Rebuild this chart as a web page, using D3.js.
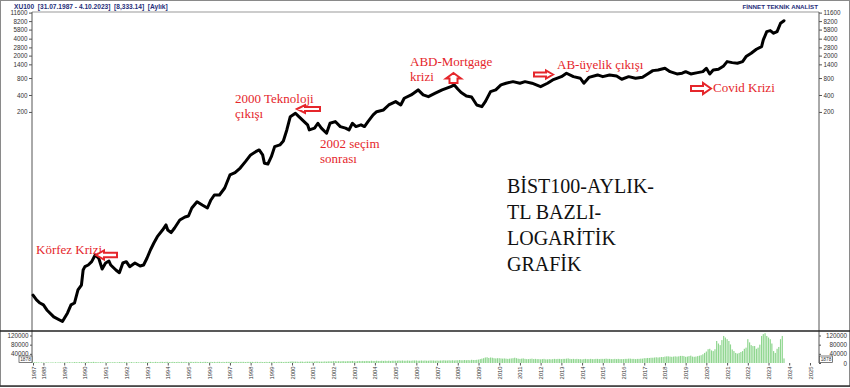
<!DOCTYPE html>
<html><head><meta charset="utf-8">
<script src="https://cdn.jsdelivr.net/npm/d3@7"></script>
<style>html,body{margin:0;padding:0;background:#fff;} svg{display:block;}</style>
</head><body>
<svg id="c" width="850" height="388"></svg>
<script>
// ---------------- DATA ----------------
const priceDates = ["1987-07","1987-09","1987-11","1988-01","1988-03","1988-07","1988-12","1989-03","1989-05","1989-07","1989-09","1989-11","1989-12","1990-01","1990-03","1990-05","1990-07","1990-09","1990-11","1991-01","1991-03","1991-04","1991-07","1991-09","1991-11","1992-01","1992-03","1992-06","1992-09","1992-11","1993-01","1993-03","1993-05","1993-07","1993-10","1993-12","1994-01","1994-03","1994-05","1994-08","1994-11","1995-01","1995-03","1995-06","1995-09","1995-12","1996-02","1996-04","1996-07","1996-10","1997-01","1997-04","1997-07","1997-10","1998-01","1998-04","1998-06","1998-08","1998-09","1998-11","1999-01","1999-03","1999-06","1999-08","1999-10","1999-12","2000-03","2000-05","2000-08","2000-10","2000-11","2001-02","2001-04","2001-06","2001-09","2001-11","2002-02","2002-05","2002-08","2002-10","2002-12","2003-02","2003-05","2003-07","2003-09","2003-12","2004-02","2004-06","2004-09","2005-01","2005-04","2005-06","2005-10","2006-02","2006-05","2006-08","2006-12","2007-04","2007-09","2007-11","2008-01","2008-03","2008-06","2008-09","2008-12","2009-03","2009-05","2009-08","2009-11","2010-02","2010-05","2010-09","2011-01","2011-04","2011-08","2012-01","2012-05","2012-08","2013-01","2013-04","2013-08","2013-12","2014-02","2014-05","2014-10","2015-01","2015-05","2015-09","2015-12","2016-04","2016-08","2016-12","2017-03","2017-06","2017-09","2018-01","2018-04","2018-08","2018-11","2019-01","2019-04","2019-08","2019-11","2020-01","2020-03","2020-05","2020-08","2020-11","2021-01","2021-04","2021-07","2021-10","2021-12","2022-03","2022-06","2022-09","2022-10","2022-12","2023-02","2023-04","2023-06","2023-08","2023-10"];
const priceValues = [0.112,0.092,0.081,0.075,0.061,0.046,0.038,0.054,0.075,0.081,0.138,0.169,0.312,0.358,0.383,0.439,0.577,0.510,0.325,0.416,0.451,0.383,0.312,0.280,0.416,0.439,0.358,0.416,0.368,0.383,0.510,0.708,0.942,1.22,1.60,1.97,1.60,1.44,1.74,2.41,2.73,2.84,3.94,5.10,4.46,3.94,5.47,6.71,6.71,8.93,15.2,16.7,20.2,26.2,34.5,39.4,42.3,34.5,24.5,23.8,32.1,48.4,51.9,61.1,95.8,165,190,165,135,118,95.8,103,126,103,83.7,126,135,110,103,95.8,126,110,118,110,135,177,202,217,266,305,266,350,401,492,401,374,430,492,563,603,512,444,385,369,266,248,305,459,492,603,647,690,647,690,647,563,647,740,847,974,847,793,647,820,908,847,908,870,762,847,793,827,946,1083,1114,1195,1039,946,974,1039,946,998,1039,1195,946,1114,1147,1312,1565,1502,1466,1565,1920,2206,2598,2890,3800,5338,5560,5000,5338,7526,8333];

// monthly volume (thousands), first row starts July 1987
const volumeStart = "1987-07";
const volumeK = [
 [3,4,3,3,2,3],
 [2,2,3,2,2,3,2,3,2,3,3,2],
 [3,3,3,4,3,3,4,4,3,4,4,4],
 [4,4,5,4,4,5,4,4,3,4,4,3],
 [3,4,4,3,3,4,3,3,4,4,3,4],
 [4,3,3,4,3,3,4,3,3,4,3,4],
 [4,4,5,4,4,5,4,4,5,5,4,5],
 [5,4,4,5,4,4,5,4,5,4,5,4],
 [4,5,5,4,5,5,4,5,4,5,5,4],
 [4,5,4,5,4,5,5,4,5,4,5,5],
 [5,5,4,5,5,4,5,5,5,4,5,5],
 [5,5,4,5,5,4,5,4,4,5,4,5],
 [4,5,5,4,5,5,5,4,5,5,5,6],
 [7,6,6,6,5,6,6,5,6,6,6,6],
 [6,6,7,7,6,6,6,7,6,7,7,7],
 [8,8,7,8,7,8,8,7,8,8,8,9],
 [8,7,8,9,8,9,8,9,9,8,10,9],
 [9,10,9,9,10,9,10,9,10,9,10,10],
 [10,10,11,10,11,10,10,11,10,10,11,11],
 [11,10,10,11,10,11,10,10,11,11,11,10],
 [11,10,11,11,12,11,11,12,11,12,11,12],
 [12,13,12,12,13,12,13,12,14,13,13,14],
 [15,17,19,21,24,25,22,24,23,21,20,21],
 [21,20,19,20,19,18,19,20,21,23,21,19],
 [18,19,20,18,17,17,18,19,17,18,17,17],
 [16,17,18,16,16,17,16,17,18,17,18,18],
 [17,18,18,19,20,18,17,18,17,18,17,17],
 [16,17,18,17,17,18,17,17,18,18,17,18],
 [18,18,19,18,18,17,17,18,17,18,17,17],
 [17,18,18,19,19,18,18,17,18,18,19,19],
 [21,21,22,22,23,23,24,25,24,25,26,26],
 [28,29,29,28,27,28,29,28,29,31,31,30],
 [27,28,30,32,28,27,28,30,32,34,38,44],
 [50,60,62,55,52,60,96,85,78,100,118,111],
 [104,96,81,59,52,44,41,44,48,52,62,67],
 [104,90,78,74,74,62,67,80,118,126,130,118],
 [111,104,85,52,44,62,70,104,118,20]
];

const priceTicks = [11600,8200,5800,4000,2800,2000,1400,800,400,200];
const volumeTicks = [0,40000,80000,120000];
const yearLabels = ["1987","1988","1989","1990","1991","1992","1993","1994","1995","1996","1997","1998","1999","2000","2001","2002","2003","2004","2005","2006","2007","2008","2009","2010","2011","2012","2013","2014","2015","2016","2017","2018","2019","2020","2021","2022","2023","2024","2025"];
const lastVolumeBox = "1878";
const headerLeft = "XU100  [31.07.1987 - 4.10.2023]  [8,333.14]  [Aylık]";
const headerRight = "FİNNET TEKNİK ANALİST";
const titleLines = ["BİST100-AYLIK-","TL BAZLI-","LOGARİTİK","GRAFİK"];

// ---------------- DRAW ----------------
const svg = d3.select("#c");
const parse = d3.timeParse("%Y-%m");
const L = 32, R = 819, T = 12, SEP = 331, VB = 363;
const RED = "#e5262b", NAVY = "#27307a";

const x = d3.scaleTime().domain([parse("1987-07"), parse("2023-10")]).range([33, 784]);
const y = d3.scaleLog().domain([0.0258, 11900]).range([SEP, T]);
const yv = d3.scaleLinear().domain([0, 120000]).range([VB, 335.5]);

const price = priceDates.map((d,i)=>({date: parse(d), v: priceValues[i]}));
const vol = [];
const vs = parse(volumeStart);
let k = 0;
volumeK.forEach(row => row.forEach(v => { vol.push({date: d3.timeMonth.offset(vs, k), v: v*1000}); k++; }));

// outer frame
svg.append("rect").attr("x",0.5).attr("y",0.5).attr("width",849).attr("height",386)
  .attr("fill","#fff").attr("stroke","#8a8a8a");
svg.append("line").attr("x1",0).attr("x2",850).attr("y1",386).attr("y2",386).attr("stroke","#333").attr("stroke-width",1.5);

// header
svg.append("text").attr("x",14).attr("y",8.5).attr("font-family","Liberation Sans, Arial, sans-serif")
  .attr("font-size",6.6).attr("font-weight","bold").attr("fill",NAVY).attr("xml:space","preserve")
  .style("white-space","pre").text(headerLeft);
svg.append("text").attr("x",818).attr("y",8.5).attr("text-anchor","end").attr("font-family","Liberation Sans, Arial, sans-serif")
  .attr("font-size",6.2).attr("font-weight","bold").attr("fill",NAVY).text(headerRight);

// panel frame lines
svg.append("line").attr("x1",L).attr("x2",R).attr("y1",T).attr("y2",T).attr("stroke","#999");
svg.append("line").attr("x1",L).attr("x2",L).attr("y1",T).attr("y2",VB).attr("stroke","#555");
svg.append("line").attr("x1",R).attr("x2",R).attr("y1",T).attr("y2",VB).attr("stroke","#555");
svg.append("line").attr("x1",0).attr("x2",850).attr("y1",SEP).attr("y2",SEP).attr("stroke","#222").attr("stroke-width",1.3);

function styleAxis(g){
  g.select(".domain").remove();
  g.selectAll(".tick line").attr("stroke","#555");
  g.selectAll("text").attr("font-family","Liberation Sans, Arial, sans-serif").attr("font-size",6.3).attr("fill","#333");
}
// price axes
svg.append("g").attr("transform",`translate(${L},0)`)
  .call(d3.axisLeft(y).tickValues(priceTicks).tickFormat(d3.format("d")).tickSize(3).tickPadding(1.5)).call(styleAxis);
svg.append("g").attr("transform",`translate(${R},0)`)
  .call(d3.axisRight(y).tickValues(priceTicks).tickFormat(d3.format("d")).tickSize(3).tickPadding(1.5)).call(styleAxis);
// volume axes
svg.append("g").attr("transform",`translate(${L},0)`)
  .call(d3.axisLeft(yv).tickValues(volumeTicks.filter(v=>v>0)).tickFormat(d3.format("d")).tickSize(2).tickPadding(1.5)).call(styleAxis);
const rv = svg.append("g").attr("transform",`translate(${R},0)`)
  .call(d3.axisRight(yv).tickValues(volumeTicks).tickFormat(d3.format("d")).tickSize(2).tickPadding(1.5)).call(styleAxis);
rv.selectAll("text").attr("text-anchor","end").attr("x",28);

// last-volume boxes
[[19,lastVolumeBox],[819.5,lastVolumeBox]].forEach(([bx,t])=>{
  svg.append("rect").attr("x",bx).attr("y",356).attr("width",13).attr("height",6.5).attr("fill","#fff").attr("stroke","#444").attr("stroke-width",0.7);
  svg.append("text").attr("x",bx+6.5).attr("y",361.2).attr("text-anchor","middle").attr("font-family","Liberation Sans, Arial, sans-serif").attr("font-size",4.8).attr("fill","#333").text(t);
});

// volume bars
svg.append("g").selectAll("rect").data(vol).join("rect")
  .attr("x", d=>x(d.date)-0.6).attr("width",1.2)
  .attr("y", d=>yv(d.v)).attr("height", d=>yv(0)-yv(d.v))
  .attr("fill","#8fd68f");

// x axis
const tickDates = yearLabels.map((yy,i)=> i===0 ? parse("1987-07") : parse(yy+"-01"));
const xa = svg.append("g").attr("transform",`translate(0,${VB})`)
  .call(d3.axisBottom(x).tickValues(tickDates).tickFormat((d,i)=>yearLabels[i]).tickSize(2.5));
styleAxis(xa);
xa.selectAll("text").attr("font-size",5.8).attr("transform","rotate(-90)").attr("text-anchor","end")
  .attr("x",-3.5).attr("y",0).attr("dy","0.35em");

// price line
svg.append("path").datum(price)
  .attr("d", d3.line().x(d=>x(d.date)).y(d=>y(d.v)))
  .attr("fill","none").attr("stroke","#000").attr("stroke-width",3).attr("stroke-linejoin","round").attr("stroke-linecap","round");

// annotations
function hArrow(tipX, cy, len, dir, hh, bh, hl){
  const s = dir; // -1 left, +1 right
  const p = [[tipX,cy],[tipX - s*hl, cy-hh],[tipX - s*hl, cy-bh],[tipX - s*len, cy-bh],[tipX - s*len, cy+bh],[tipX - s*hl, cy+bh],[tipX - s*hl, cy+hh]];
  svg.append("path").attr("d","M"+p.map(q=>q.join(",")).join("L")+"Z")
    .attr("fill","#fff").attr("stroke",RED).attr("stroke-width",2).attr("stroke-linejoin","miter");
}
function vArrow(cx, tipY, len, hw, bw, hl){
  const p = [[cx,tipY],[cx+hw,tipY+hl],[cx+bw,tipY+hl],[cx+bw,tipY+len],[cx-bw,tipY+len],[cx-bw,tipY+hl],[cx-hw,tipY+hl]];
  svg.append("path").attr("d","M"+p.map(q=>q.join(",")).join("L")+"Z")
    .attr("fill","#fff").attr("stroke",RED).attr("stroke-width",2);
}
function note(tx, ty, lines){
  lines.forEach((t,i)=> svg.append("text").attr("x",tx).attr("y",ty+i*14.5)
    .attr("font-family","Liberation Serif, Times New Roman, serif").attr("font-size",13).attr("fill",RED).text(t));
}
note(36, 254, ["Körfez Krizi"]);
hArrow(96, 255, 21, -1, 4.5, 2.2, 8);
note(235, 103, ["2000 Teknoloji","çıkışı"]);
hArrow(297, 109, 23, -1, 4, 2, 8);
note(320, 148, ["2002 seçim","sonrası"]);
note(410, 66, ["ABD-Mortgage","krizi"]);
vArrow(453.5, 73, 10, 7.5, 4, 5.5);
note(557, 69, ["AB-üyelik çıkışı"]);
hArrow(553, 74.5, 19, 1, 4, 2, 7);
note(713, 91.5, ["Covid Krizi"]);
hArrow(711, 88.5, 20, 1, 5.5, 2.6, 8);

// big title
titleLines.forEach((t,i)=> svg.append("text").attr("x",507).attr("y",193+i*26)
  .attr("font-family","Liberation Serif, Times New Roman, serif").attr("font-size",20).attr("fill","#111").text(t));
</script></body></html>
